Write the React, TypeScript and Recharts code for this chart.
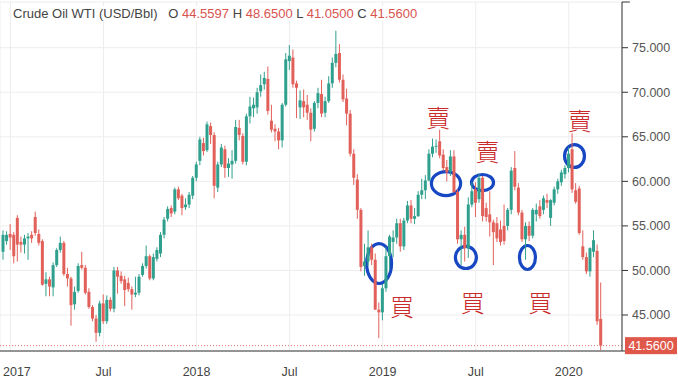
import { ComposedChart, Bar, XAxis, YAxis, CartesianGrid, ReferenceLine, ReferenceDot, ReferenceArea } from "recharts";

// weekly candles, week 0 = 2016-12-19, last = 2020-03-02
const opens = [
  52.1, 53.3, 54.1, 54.0, 55.9, 53.2, 52.9, 53.6, 54.0, 56.0, 54.1, 53.3, 48.5, 49.0, 48.1, 50.6, 52.3, 53.1, 49.6, 49.1,
  46.2, 47.7, 50.6, 50.3, 47.6, 45.9, 44.6, 43.0, 46.3, 44.3, 46.7, 45.7, 50.0, 49.4, 49.0, 48.6, 47.9, 47.3, 47.5, 49.5,
  50.5, 51.6, 49.1, 51.3, 51.9, 54.0, 55.8, 57.0, 56.6, 59.1, 58.4, 57.1, 57.4, 58.4, 60.4, 62.3, 64.3, 63.5, 66.2, 65.2,
  59.3, 61.9, 63.6, 61.5, 61.9, 62.3, 66.0, 65.1, 62.2, 67.3, 68.2, 68.3, 70.1, 70.9, 71.5, 66.8, 65.9, 65.6, 64.6, 68.6,
  73.5, 73.9, 71.0, 68.3, 69.0, 68.6, 67.7, 65.9, 68.8, 69.8, 67.7, 69.0, 71.0, 73.3, 74.4, 71.4, 69.3, 67.6, 63.1, 60.2,
  56.8, 50.5, 51.0, 52.6, 51.2, 45.6, 45.3, 48.0, 51.6, 53.2, 53.7, 55.3, 52.7, 55.6, 57.3, 55.8, 56.1, 58.5, 59.0, 60.1,
  63.1, 63.9, 64.5, 63.0, 61.6, 61.1, 62.8, 58.8, 53.5, 54.0, 52.5, 57.4, 59.1, 58.0, 60.4, 57.0, 56.3, 55.4, 55.3, 54.6,
  55.0, 55.0, 56.8, 61.5, 59.3, 56.5, 53.5, 55.0, 53.9, 56.3, 57.2, 56.8, 57.9, 55.9, 57.6, 59.1, 59.9, 60.8, 61.5, 63.6,
  59.0, 59.2, 52.7, 51.5, 49.9, 52.1, 52.2, 44.5597,
];
const highs = [
  54.5, 54.4, 55.2, 54.3, 56.2, 53.8, 54.0, 54.2, 54.4, 56.6, 54.6, 53.5, 49.8, 49.3, 50.9, 52.5, 53.8, 53.3, 50.3, 49.3,
  48.2, 50.8, 52.1, 50.6, 48.0, 46.1, 45.0, 46.6, 47.3, 47.2, 47.0, 50.4, 50.4, 49.9, 49.4, 49.2, 48.2, 49.3, 49.6, 50.8,
  52.8, 51.8, 51.9, 52.6, 54.3, 56.0, 57.2, 57.3, 59.3, 59.4, 58.6, 58.1, 58.8, 60.6, 62.2, 65.0, 64.9, 66.7, 66.6, 65.5,
  62.2, 64.2, 64.0, 62.6, 63.5, 66.9, 66.9, 65.4, 67.6, 69.5, 69.4, 70.5, 72.0, 72.3, 72.9, 68.6, 66.4, 66.0, 68.8, 74.4,
  75.3, 74.8, 71.3, 70.2, 70.3, 69.7, 68.2, 69.0, 70.5, 71.4, 69.5, 71.8, 73.9, 76.9, 75.4, 72.0, 70.4, 68.0, 63.6, 60.8,
  57.0, 53.0, 54.5, 53.0, 51.9, 46.4, 48.5, 52.6, 54.0, 54.5, 55.8, 55.8, 55.9, 57.8, 57.9, 57.0, 58.9, 60.3, 60.7, 63.6,
  64.8, 64.7, 65.8, 63.6, 62.4, 63.5, 63.5, 59.1, 54.5, 54.9, 58.2, 59.9, 59.9, 60.9, 60.6, 57.6, 58.9, 55.7, 56.0, 55.6,
  57.4, 57.0, 61.6, 63.4, 59.8, 56.8, 55.4, 55.5, 57.0, 57.5, 57.9, 58.4, 58.6, 58.0, 59.4, 60.3, 61.3, 61.8, 63.8, 65.4,
  59.8, 59.5, 54.5, 52.0, 52.6, 54.5, 52.9, 48.65,
];
const lows = [
  51.2, 52.9, 52.3, 50.8, 51.0, 52.0, 51.9, 51.2, 53.1, 53.9, 52.8, 48.3, 47.1, 47.1, 47.1, 50.4, 52.0, 49.4, 48.2, 43.8,
  45.6, 47.5, 50.1, 47.3, 45.7, 44.3, 42.0, 42.6, 44.0, 44.0, 45.4, 45.3, 47.4, 48.5, 46.0, 47.6, 45.6, 47.0, 47.2, 49.3,
  50.2, 48.9, 48.9, 51.0, 51.5, 53.6, 55.5, 56.0, 56.3, 57.9, 56.2, 56.8, 57.0, 58.0, 60.0, 61.8, 62.9, 63.3, 64.2, 58.1,
  58.8, 61.6, 60.4, 60.5, 60.3, 62.0, 64.6, 61.9, 61.8, 66.5, 67.2, 67.6, 69.5, 70.3, 67.5, 65.5, 64.5, 63.6, 63.8, 68.4,
  72.5, 70.5, 67.1, 67.0, 67.2, 66.9, 64.5, 65.6, 68.2, 67.2, 67.2, 68.8, 70.5, 72.8, 71.1, 68.9, 66.3, 62.8, 59.6, 55.8,
  49.9, 49.4, 50.5, 50.6, 45.6, 42.4, 44.4, 47.6, 50.0, 51.5, 53.0, 52.1, 52.3, 55.3, 55.3, 55.2, 56.0, 58.0, 58.0, 60.0,
  62.7, 63.2, 62.6, 61.2, 60.0, 60.6, 58.7, 53.0, 50.6, 51.0, 51.4, 57.1, 56.0, 57.6, 55.5, 55.5, 53.8, 50.6, 53.2, 52.8,
  52.9, 54.5, 56.3, 59.0, 56.2, 53.2, 51.2, 53.3, 53.6, 55.5, 55.8, 56.3, 57.0, 55.0, 57.3, 58.6, 59.5, 60.3, 61.0, 58.7,
  57.5, 54.0, 51.2, 49.6, 49.3, 51.5, 43.9, 41.05,
];
const closes = [
  54.0, 54.0, 53.7, 51.6, 52.9, 52.9, 53.6, 53.8, 53.6, 54.2, 53.1, 48.4, 49.0, 48.2, 50.6, 52.3, 53.1, 49.6, 49.1, 46.1,
  47.6, 50.5, 50.3, 47.5, 45.9, 44.6, 43.0, 46.3, 44.3, 46.7, 45.7, 50.0, 49.3, 48.8, 47.8, 47.9, 47.3, 47.5, 49.3, 50.5,
  51.6, 49.1, 51.5, 52.3, 54.0, 55.7, 56.9, 56.4, 59.1, 58.1, 57.0, 57.4, 58.5, 60.4, 61.9, 64.7, 63.4, 66.4, 65.2, 59.5,
  61.9, 63.8, 61.5, 62.0, 62.3, 66.1, 65.2, 62.2, 67.3, 68.4, 68.6, 70.0, 70.8, 71.6, 67.9, 65.8, 65.6, 64.6, 68.6, 73.7,
  74.1, 70.9, 70.5, 69.1, 68.3, 67.7, 65.8, 68.8, 69.9, 67.6, 69.0, 71.0, 73.3, 74.3, 71.4, 69.2, 67.6, 63.1, 60.4, 56.8,
  50.4, 51.0, 52.6, 51.2, 45.6, 45.3, 48.0, 51.6, 53.8, 53.7, 55.3, 52.7, 55.6, 57.3, 55.8, 56.1, 58.5, 59.0, 60.1, 63.1,
  63.9, 64.0, 62.9, 61.5, 61.0, 62.8, 58.8, 53.5, 54.0, 52.5, 57.4, 58.9, 57.6, 60.4, 56.1, 56.0, 55.4, 54.3, 53.6, 53.2,
  53.3, 56.8, 61.2, 59.4, 56.5, 53.5, 55.0, 53.9, 56.8, 56.8, 56.1, 58.1, 57.6, 57.9, 59.1, 60.0, 61.0, 61.5, 63.1, 59.1,
  57.7, 54.2, 51.5, 49.9, 52.5, 53.4, 44.3, 41.56,
];

const xTicks = [2, 28, 54, 80, 106, 132, 158];
const xTickLabels = ["2017", "Jul", "2018", "Jul", "2019", "Jul", "2020"];
const yTicks = [45, 50, 55, 60, 65, 70, 75];

const lastPrice = 41.56;

// hand-drawn buy / sell marks
const signalWeeks = [121.5, 111.4, 131.2, 135.3, 150.0, 161.1];
const signalPrices = [67.15, 45.9, 46.3, 63.35, 46.3, 66.8];
const signalTexts = ["賣", "買", "買", "賣", "買", "賣"];

// circles: week range and price range
const circleWeekFrom = [101.1, 119.2, 125.9, 130.4, 143.8, 156.4];
const circleWeekTo = [108.9, 128.2, 132.6, 137.4, 149.1, 162.8];
const circlePriceTop = [53.19, 61.27, 52.86, 60.94, 52.97, 64.3];
const circlePriceBottom = [48.37, 58.24, 50.05, 58.8, 49.94, 61.39];

const GREEN = "#30a08e";
const RED = "#e2605a";
const X_DOMAIN = [-0.92, 172.87];
const Y_DOMAIN = [40.96, 80.13];

const data = opens.map((o, i) => ({
  i,
  o,
  h: highs[i],
  l: lows[i],
  c: closes[i],
  range: [lows[i], highs[i]],
}));

const Candle = (props: any) => {
  const { x, y, width, height, payload } = props;
  if (!payload || height == null) return null;
  const { o, h, l, c } = payload;
  const color = c >= o ? GREEN : RED;
  const k = height / (h - l || 1);
  const yO = y + (h - o) * k;
  const yC = y + (h - c) * k;
  const top = Math.min(yO, yC);
  const bh = Math.max(1, Math.abs(yO - yC));
  const cx = x + width / 2;
  return (
    <g>
      <line x1={cx} x2={cx} y1={y} y2={y + height} stroke={color} strokeWidth={1} />
      <rect x={x} y={top} width={width} height={bh} fill={color} />
    </g>
  );
};

const XTick = (props: any) => {
  const { x, y, payload, index } = props;
  const label = xTickLabels[xTicks.indexOf(payload.value)] ?? "";
  const first = index === 0;
  return (
    <text
      x={first ? 3 : x}
      y={y + 17}
      textAnchor={first ? "start" : "middle"}
      fontSize={12.5}
      fill="#444"
      fontFamily="'Liberation Sans', Arial, sans-serif"
    >
      {label}
    </text>
  );
};

const PriceTag = (props: any) => {
  const { viewBox } = props;
  if (!viewBox) return null;
  const bx = viewBox.x + viewBox.width + 3;
  return (
    <g>
      <rect x={bx} y={viewBox.y - 8.5} width={52} height={17} fill="#e0584a" />
      <text
        x={bx + 26}
        y={viewBox.y + 4.5}
        textAnchor="middle"
        fontSize={12.5}
        fill="#fff"
        fontFamily="'Liberation Sans', Arial, sans-serif"
      >
        {lastPrice.toFixed(4)}
      </text>
    </g>
  );
};

const Ring = (props: any) => {
  const { x, y, width, height } = props;
  if (width == null) return null;
  return (
    <ellipse
      cx={x + width / 2}
      cy={y + height / 2}
      rx={Math.max(1, width / 2 - 1.5)}
      ry={Math.max(1, height / 2 - 1.5)}
      fill="none"
      stroke="#1747c2"
      strokeWidth={3.2}
    />
  );
};

export default function App() {
  return (
    <div style={{ position: "absolute", left: 0, top: 0, width: 678, height: 386, background: "#fff" }}>
      <ComposedChart width={678} height={386} data={data} margin={{ top: 2, right: 0, bottom: 0, left: 0 }}>
        <CartesianGrid stroke="#ededed" strokeWidth={1} />
        <XAxis
          dataKey="i"
          type="number"
          domain={X_DOMAIN}
          allowDataOverflow
          ticks={xTicks}
          interval={0}
          height={35}
          axisLine={{ stroke: "#333" }}
          tickLine={false}
          tick={<XTick />}
        />
        <YAxis
          orientation="right"
          domain={Y_DOMAIN}
          allowDataOverflow
          ticks={yTicks}
          interval={0}
          width={56}
          axisLine={{ stroke: "#333" }}
          tickLine={{ stroke: "#333" }}
          tickSize={6}
          tickMargin={4}
          tickFormatter={(v: number) => v.toFixed(3)}
          tick={{ fontSize: 12.5, fill: "#555", fontFamily: "'Liberation Sans', Arial, sans-serif", textAnchor: "start" }}
        />
        {/* axis line runs a little past the price scale, small cap at top */}
        <ReferenceLine
          segment={[{ x: X_DOMAIN[1], y: Y_DOMAIN[0] }, { x: X_DOMAIN[1] + 2.5, y: Y_DOMAIN[0] }]}
          stroke="#333"
          ifOverflow="visible"
        />
        <ReferenceLine
          segment={[{ x: X_DOMAIN[1], y: Y_DOMAIN[1] }, { x: X_DOMAIN[1] + 2.2, y: Y_DOMAIN[1] }]}
          stroke="#333"
          ifOverflow="visible"
        />
        <ReferenceLine
          y={lastPrice}
          stroke="#e07070"
          strokeDasharray="1 2"
          label={<PriceTag />}
          ifOverflow="visible"
        />
        <Bar dataKey="range" barSize={3} shape={<Candle />} isAnimationActive={false} />
        {circleWeekFrom.map((w, k) => (
          <ReferenceArea
            key={`ring-${k}`}
            x1={w}
            x2={circleWeekTo[k]}
            y1={circlePriceBottom[k]}
            y2={circlePriceTop[k]}
            shape={<Ring />}
            ifOverflow="visible"
          />
        ))}
        {signalWeeks.map((w, k) => (
          <ReferenceDot
            key={`sig-${k}`}
            x={w}
            y={signalPrices[k]}
            ifOverflow="visible"
            shape={(p: any) => (
              <text
                x={p.cx}
                y={p.cy + 9}
                textAnchor="middle"
                fontSize={24}
                fill="#c92a2a"
                fontFamily="'Noto Sans CJK TC', 'Noto Sans CJK SC', sans-serif"
                fontWeight={300}
              >
                {signalTexts[k]}
              </text>
            )}
          />
        ))}
      </ComposedChart>
      <div
        style={{
          position: "absolute",
          left: 13,
          top: 6,
          fontSize: 13,
          fontFamily: "'Liberation Sans', Arial, sans-serif",
          color: "#444",
          whiteSpace: "pre",
          background: "#fff",
        }}
      >
        Crude Oil WTI (USD/Bbl)
        {"   "}O <span style={{ color: "#d9534f" }}>{opens[opens.length - 1].toFixed(4)}</span>
        {" "}H <span style={{ color: "#d9534f" }}>{highs[highs.length - 1].toFixed(4)}</span>
        {" "}L <span style={{ color: "#d9534f" }}>{lows[lows.length - 1].toFixed(4)}</span>
        {" "}C <span style={{ color: "#d9534f" }}>{closes[closes.length - 1].toFixed(4)}</span>
      </div>
    </div>
  );
}
